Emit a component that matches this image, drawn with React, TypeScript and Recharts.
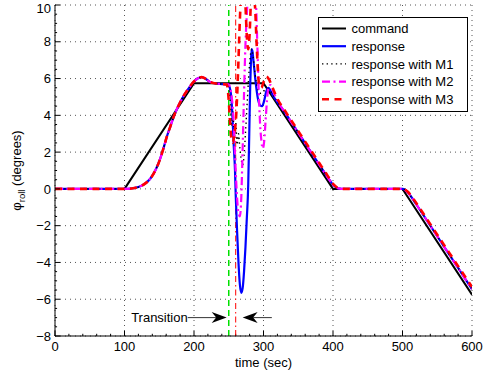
import React from 'react';
import { LineChart, Line, XAxis, YAxis, CartesianGrid, ReferenceLine, Legend } from 'recharts';

type Pt = { t: number; v: number };

const FONT = '"Liberation Sans", Arial, Helvetica, sans-serif';

const xTicks = [0, 100, 200, 300, 400, 500, 600];
const yTicks = [-8, -6, -4, -2, 0, 2, 4, 6, 8, 10];
const xMinorTicks = [20, 40, 60, 80, 120, 140, 160, 180, 220, 240, 260, 280, 320, 340, 360, 380, 420, 440, 460, 480, 520, 540, 560, 580];
const yMinorTicks = [-7.5, -7, -6.5, -5.5, -5, -4.5, -3.5, -3, -2.5, -1.5, -1, -0.5, 0.5, 1, 1.5, 2.5, 3, 3.5, 4.5, 5, 5.5, 6.5, 7, 7.5, 8.5, 9, 9.5];

const commandData: Pt[] = [
  { t: 0, v: 0 }, { t: 100, v: 0 }, { t: 200, v: 5.75 }, { t: 300, v: 5.75 },
  { t: 400, v: 0 }, { t: 500, v: 0 }, { t: 600, v: -5.75 },
];

const sharedRise: Pt[] = [
  { t: 0, v: 0 }, { t: 100, v: 0 }, { t: 110, v: 0.02 }, { t: 120, v: 0.1 }, { t: 130, v: 0.3 },
  { t: 137, v: 0.55 }, { t: 145, v: 1.05 }, { t: 151, v: 1.6 }, { t: 156, v: 2.2 }, { t: 161, v: 2.85 },
  { t: 166, v: 3.4 }, { t: 171, v: 3.95 }, { t: 178, v: 4.55 }, { t: 185, v: 5.05 }, { t: 192, v: 5.45 },
  { t: 199, v: 5.8 }, { t: 205, v: 6.0 }, { t: 211, v: 6.08 }, { t: 217, v: 5.98 }, { t: 223, v: 5.82 },
  { t: 230, v: 5.74 }, { t: 240, v: 5.7 }, { t: 247, v: 5.68 },
];

const sharedFall: Pt[] = [
  { t: 330, v: 4.2 }, { t: 340, v: 3.63 }, { t: 360, v: 2.48 }, { t: 380, v: 1.33 }, { t: 390, v: 0.76 },
  { t: 396, v: 0.43 }, { t: 400, v: 0.23 }, { t: 404, v: 0.1 }, { t: 408, v: 0.03 }, { t: 415, v: 0 },
  { t: 500, v: 0 }, { t: 504, v: -0.06 }, { t: 508, v: -0.2 }, { t: 512, v: -0.4 }, { t: 516, v: -0.62 },
  { t: 520, v: -0.85 }, { t: 540, v: -2.0 }, { t: 560, v: -3.15 }, { t: 580, v: -4.3 }, { t: 600, v: -5.45 },
];

const m3Fall: Pt[] = [
  { t: 330, v: 4.3 }, { t: 340, v: 3.72 }, { t: 360, v: 2.57 }, { t: 380, v: 1.42 }, { t: 390, v: 0.85 },
  { t: 396, v: 0.5 }, { t: 400, v: 0.28 }, { t: 404, v: 0.13 }, { t: 408, v: 0.04 }, { t: 415, v: 0 },
  { t: 500, v: 0 }, { t: 504, v: -0.05 }, { t: 508, v: -0.17 }, { t: 512, v: -0.35 }, { t: 516, v: -0.56 },
  { t: 520, v: -0.78 }, { t: 540, v: -1.92 }, { t: 560, v: -3.06 }, { t: 580, v: -4.2 }, { t: 600, v: -5.33 },
];

const responseTransition: Pt[] = [
  { t: 250, v: 5.62 }, { t: 253, v: 5.2 }, { t: 255, v: 4.2 }, { t: 257, v: 2.5 }, { t: 259, v: 1.0 },
  { t: 260, v: -0.3 }, { t: 262, v: -2.3 }, { t: 264, v: -4.0 }, { t: 266, v: -5.2 }, { t: 268, v: -5.65 },
  { t: 270, v: -5.4 }, { t: 272, v: -4.5 }, { t: 274, v: -3.2 }, { t: 276, v: -1.6 }, { t: 278, v: 0.2 },
  { t: 279, v: 2.0 }, { t: 280, v: 4.0 }, { t: 281, v: 5.8 }, { t: 282, v: 7.0 }, { t: 283, v: 7.6 },
  { t: 284, v: 7.5 }, { t: 286, v: 6.8 }, { t: 289, v: 5.7 }, { t: 292, v: 4.9 }, { t: 295, v: 4.55 },
  { t: 298, v: 4.5 }, { t: 301, v: 4.8 }, { t: 304, v: 5.3 }, { t: 307, v: 5.5 }, { t: 310, v: 5.35 },
  { t: 314, v: 5.05 }, { t: 320, v: 4.72 },
];

const m1Transition: Pt[] = [
  { t: 250, v: 5.6 }, { t: 252, v: 4.8 }, { t: 254, v: 3.4 }, { t: 256, v: 4.2 }, { t: 258, v: 2.8 },
  { t: 260, v: 3.6 }, { t: 262, v: 2.4 }, { t: 264, v: 3.0 }, { t: 266, v: 2.2 }, { t: 268, v: 1.6 },
  { t: 270, v: 1.3 }, { t: 272, v: 1.8 }, { t: 274, v: 3.0 }, { t: 277, v: 5.0 }, { t: 280, v: 6.8 },
  { t: 283, v: 7.6 }, { t: 285, v: 7.2 }, { t: 288, v: 6.2 }, { t: 292, v: 5.4 }, { t: 296, v: 5.2 },
  { t: 300, v: 5.3 }, { t: 305, v: 5.45 }, { t: 310, v: 5.3 }, { t: 314, v: 5.1 }, { t: 320, v: 4.75 },
];

const m2Transition: Pt[] = [
  { t: 250, v: 5.68 }, { t: 253, v: 5.3 }, { t: 256, v: 4.3 }, { t: 258, v: 2.8 }, { t: 260, v: 1.0 },
  { t: 262, v: -0.5 }, { t: 264, v: -1.3 }, { t: 266, v: -1.5 }, { t: 268, v: -0.5 }, { t: 270, v: 2.2 },
  { t: 272, v: 5.2 }, { t: 274, v: 7.8 }, { t: 276, v: 9.5 }, { t: 278, v: 10.6 }, { t: 282, v: 11.3 },
  { t: 286, v: 11.0 }, { t: 289, v: 10.2 }, { t: 291, v: 8.0 }, { t: 293, v: 5.5 }, { t: 295, v: 3.6 },
  { t: 297, v: 2.6 }, { t: 299, v: 2.2 }, { t: 301, v: 2.6 }, { t: 303, v: 3.7 }, { t: 305, v: 4.8 },
  { t: 307, v: 5.5 }, { t: 310, v: 5.65 }, { t: 314, v: 5.3 }, { t: 320, v: 4.8 },
];

const m3Transition: Pt[] = [
  { t: 250, v: 4.8 }, { t: 252, v: 3.5 }, { t: 254, v: 2.7 }, { t: 256, v: 2.5 }, { t: 258, v: 3.0 },
  { t: 260, v: 3.6 }, { t: 262, v: 5.0 }, { t: 264, v: 7.0 }, { t: 266, v: 9.2 }, { t: 268, v: 10.6 },
  { t: 271, v: 10.9 }, { t: 274, v: 10.0 }, { t: 276, v: 8.3 }, { t: 278, v: 7.6 }, { t: 280, v: 8.4 },
  { t: 282, v: 10.2 }, { t: 285, v: 10.8 }, { t: 288, v: 9.8 }, { t: 290, v: 8.0 }, { t: 292, v: 6.4 },
  { t: 294, v: 5.6 }, { t: 297, v: 5.5 }, { t: 300, v: 5.8 }, { t: 304, v: 6.1 }, { t: 308, v: 5.95 },
  { t: 312, v: 5.6 }, { t: 320, v: 4.9 },
];

const transitionStart = 250;
const transitionEnd = 260;
const arrowLevel = -7;
const transitionArrows = [
  { from: 191, to: 247, text: 'Transition' },
  { from: 312, to: 270, text: '' },
];

const legendNames = ['command', 'response', 'response with M1', 'response with M2', 'response with M3'];

const responseData = [...sharedRise, ...responseTransition, ...sharedFall];
const m1Data = [...sharedRise, ...m1Transition, ...sharedFall];
const m2Data = [...sharedRise, ...m2Transition, ...sharedFall];
const m3Data = [...sharedRise, ...m3Transition, ...m3Fall];

const styles = [
  { stroke: '#000000', width: 2, dash: undefined as string | undefined },
  { stroke: '#0000ff', width: 2.2, dash: undefined as string | undefined },
  { stroke: '#000000', width: 1.4, dash: '1.4 3.2' },
  { stroke: '#ff00ff', width: 2.2, dash: '8 3.5 2 3.5' },
  { stroke: '#ff0000', width: 2.6, dash: '7 5.5' },
];

const fmtY = (v: number) => (v < 0 ? `\u2212${-v}` : `${v}`);

const makeArrow = (text: string) => (p: any) => {
  const { x1, y1, x2, y2 } = p;
  const dir = x2 > x1 ? 1 : -1;
  const L = 15;
  const W = 5.5;
  const notch = 4.5;
  const pts = `${x2},${y2} ${x2 - dir * L},${y2 - W} ${x2 - dir * (L - notch)},${y2} ${x2 - dir * L},${y2 + W}`;
  return (
    <g>
      <line x1={x1} y1={y1} x2={x2 - dir * (L - notch)} y2={y2} stroke="#333" strokeWidth={1} />
      <polygon points={pts} fill="#000" />
      {text ? (
        <text x={x1} y={y1} dy={4.5} textAnchor="end" fontSize={13} fontFamily={FONT} fill="#000">
          {text}
        </text>
      ) : null}
    </g>
  );
};

const LegendBox = () => (
  <svg width={150} height={95} style={{ display: 'block' }}>
    <rect x={0.5} y={0.5} width={149} height={94} fill="#fff" stroke="#000" strokeWidth={1} />
    {legendNames.map((name, i) => {
      const y = 11.5 + i * 17.7;
      const s = styles[i];
      return (
        <g key={name}>
          <line x1={4} x2={28} y1={y} y2={y} stroke={s.stroke} strokeWidth={s.width} strokeDasharray={s.dash} />
          <text x={33.5} y={y} dy={4.6} fontSize={13} fontFamily={FONT} fill="#000">
            {name}
          </text>
        </g>
      );
    })}
  </svg>
);

const yLabel = (p: any) => {
  const vb = p.viewBox || { x: 0, y: 5, width: 55, height: 331 };
  const cx = 17;
  const cy = vb.y + vb.height / 2;
  return (
    <text x={cx} y={cy} transform={`rotate(-90 ${cx} ${cy})`} textAnchor="middle" fontSize={13} fontFamily={FONT} fill="#000" dy={4}>
      φ<tspan fontSize={9.5} dy={3.5}>roll</tspan>
      <tspan dy={-3.5}> (degrees)</tspan>
    </text>
  );
};

const xLabel = (p: any) => {
  const vb = p.viewBox || { x: 55, y: 336, width: 417, height: 39 };
  return (
    <text x={vb.x + vb.width / 2} y={vb.y + 31} textAnchor="middle" fontSize={13} fontFamily={FONT} fill="#000">
      time (sec)
    </text>
  );
};

export default function App() {
  return (
    <div style={{ position: 'absolute', left: 0, top: 0, width: 489, height: 375, background: '#fff' }}>
      <LineChart width={489} height={375} margin={{ top: 5, right: 17, bottom: 0, left: 0 }} style={{ fontFamily: FONT }}>
        <CartesianGrid stroke="#555" strokeDasharray="1 4" strokeWidth={1} />
        <XAxis
          dataKey="t"
          type="number"
          domain={[0, 600]}
          ticks={xTicks}
          allowDataOverflow
          height={39}
          stroke="#000"
          tickSize={-5}
          tickMargin={11}
          tick={{ fontSize: 13, fill: '#000', fontFamily: FONT }}
          label={xLabel}
        />
        <YAxis
          type="number"
          domain={[-8, 10]}
          ticks={yTicks}
          allowDataOverflow
          width={55}
          stroke="#000"
          tickSize={-5}
          tickMargin={9}
          tickFormatter={fmtY}
          tick={{ fontSize: 13, fill: '#000', fontFamily: FONT }}
          label={yLabel}
        />
        {xMinorTicks.map((t) => (
          <ReferenceLine key={`xm${t}`} segment={[{ x: t, y: -8 }, { x: t, y: -7.88 }]} stroke="#000" strokeWidth={1} />
        ))}
        {yMinorTicks.map((v) => (
          <ReferenceLine key={`ym${v}`} segment={[{ x: 0, y: v }, { x: 3, y: v }]} stroke="#000" strokeWidth={1} />
        ))}
        <ReferenceLine x={transitionStart} stroke="#00e000" strokeWidth={1.5} strokeDasharray="6 4" />
        <ReferenceLine x={transitionEnd} stroke="#ff0000" strokeWidth={1} strokeDasharray="6 3 1.5 3" />
        <Line data={commandData} dataKey="v" type="linear" stroke={styles[0].stroke} strokeWidth={styles[0].width} dot={false} isAnimationActive={false} />
        <Line data={responseData} dataKey="v" type="monotone" stroke={styles[1].stroke} strokeWidth={styles[1].width} dot={false} isAnimationActive={false} />
        <Line data={m1Data} dataKey="v" type="monotone" stroke={styles[2].stroke} strokeWidth={styles[2].width} strokeDasharray={styles[2].dash} dot={false} isAnimationActive={false} />
        <Line data={m2Data} dataKey="v" type="monotone" stroke={styles[3].stroke} strokeWidth={styles[3].width} strokeDasharray={styles[3].dash} dot={false} isAnimationActive={false} />
        <Line data={m3Data} dataKey="v" type="monotone" stroke={styles[4].stroke} strokeWidth={styles[4].width} strokeDasharray={styles[4].dash} dot={false} isAnimationActive={false} />
        {transitionArrows.map((a, i) => (
          <ReferenceLine
            key={`arrow${i}`}
            segment={[{ x: a.from, y: arrowLevel }, { x: a.to, y: arrowLevel }]}
            shape={makeArrow(a.text)}
            ifOverflow="visible"
          />
        ))}
        <Legend
          layout="horizontal"
          verticalAlign="middle"
          align="center"
          wrapperStyle={{ left: 318, top: 17, width: 150, height: 95 }}
          content={() => <LegendBox />}
        />
      </LineChart>
    </div>
  );
}
